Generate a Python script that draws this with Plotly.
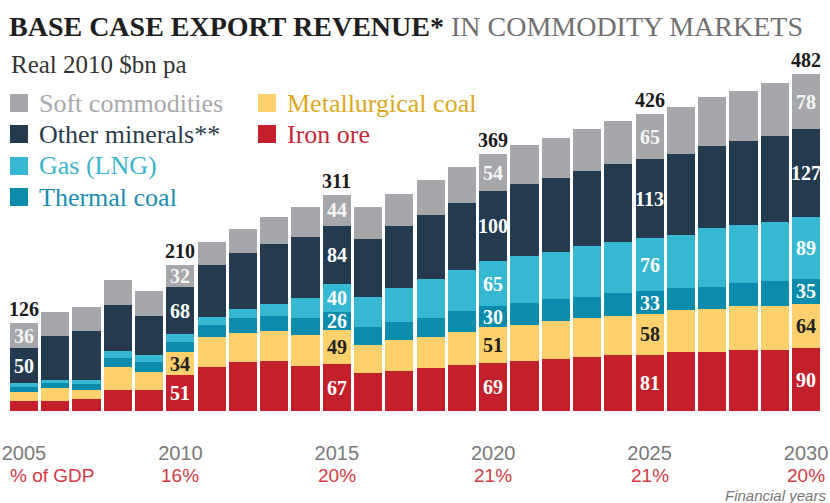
import plotly.graph_objects as go

# ---------------- data ----------------
years = list(range(2005, 2031))
iron_ore = [14, 15, 17, 30, 30, 51, 63, 71, 72, 64, 67, 54, 58, 61, 66, 69, 72, 74, 77, 80, 81, 84, 85, 87, 88, 90]
met_coal = [13, 18, 13, 33, 26, 34, 43, 41, 43, 45, 49, 41, 44, 45, 48, 51, 51, 55, 56, 56, 58, 61, 62, 63, 63, 64]
thermal_coal = [7, 7, 9, 13, 14, 14, 17, 21, 22, 24, 26, 26, 25, 28, 30, 30, 32, 31, 31, 33, 33, 31, 31, 33, 35, 35]
gas_lng = [6, 5, 6, 10, 10, 11, 12, 14, 17, 29, 40, 43, 49, 56, 58, 65, 67, 68, 73, 73, 76, 77, 84, 84, 85, 89]
other_minerals = [50, 62, 70, 66, 57, 68, 74, 80, 86, 87, 84, 83, 89, 91, 96, 100, 103, 107, 108, 112, 113, 116, 118, 120, 123, 127]
soft_commodities = [36, 35, 34, 36, 35, 32, 33, 34, 38, 43, 44, 45, 47, 51, 52, 54, 56, 57, 60, 62, 65, 67, 70, 72, 76, 78]

label_years = [2005, 2010, 2015, 2020, 2025, 2030]
total_labels = [126, 210, 311, 369, 426, 482]
gdp_years = [2010, 2015, 2020, 2025, 2030]
gdp_share = ["16%", "20%", "21%", "21%", "20%"]
tick_years = [2005, 2010, 2015, 2020, 2025, 2030]

series = [
    # name, values, bar colour, label colour, years labelled, legend text colour
    ("Iron ore", iron_ore, "#c4202c", "#ffffff", [2010, 2015, 2020, 2025, 2030], "#c9283a"),
    ("Metallurgical coal", met_coal, "#fcd06c", "#222222", [2010, 2015, 2020, 2025, 2030], "#dba922"),
    ("Thermal coal", thermal_coal, "#0b8cac", "#ffffff", [2015, 2020, 2025, 2030], "#1a8db0"),
    ("Gas (LNG)", gas_lng, "#36b8d2", "#ffffff", [2015, 2020, 2025, 2030], "#3bb5cf"),
    ("Other minerals**", other_minerals, "#243a4f", "#ffffff", label_years, "#2b3b4c"),
    ("Soft commodities", soft_commodities, "#a6a7ab", "#f4f4f4", label_years, "#a9a9ab"),
]

W, H = 830, 503
B = 92          # bottom margin, plot bottom at y=411
PLOT_H = H - B  # 411
Y_MAX = 589.7


def fx(px):
    return px / W


def fy(py):
    return (PLOT_H - py) / PLOT_H


SERIF = "Liberation Serif"
SANS = "Liberation Sans"

fig = go.Figure()
for name, vals, col, _, _, _ in series:
    fig.add_trace(go.Bar(
        x=years, y=vals, name=name, marker=dict(color=col, line=dict(width=0)),
        showlegend=False, hoverinfo="x+y+name",
    ))

annotations = []
# segment labels
base = [0] * len(years)
for name, vals, col, lcol, lyears, _ in series:
    for i, yr in enumerate(years):
        if yr in lyears:
            annotations.append(dict(
                x=yr, y=base[i] + vals[i] / 2, xref="x", yref="y", yanchor="middle",
                text=f"<b>{vals[i]}</b>", showarrow=False,
                font=dict(family=SERIF, size=20, color=lcol),
            ))
    base = [b + v for b, v in zip(base, vals)]

# totals
for yr, tot in zip(label_years, total_labels):
    i = years.index(yr)
    annotations.append(dict(
        x=yr, y=base[i], xref="x", yref="y", yanchor="bottom", yshift=1,
        text=f"<b>{tot}</b>", showarrow=False,
        font=dict(family=SERIF, size=20, color="#1a1a1a"),
    ))

# % of GDP row
annotations.append(dict(
    x=fx(8), y=fy(475), xref="paper", yref="paper", xanchor="left", yanchor="middle",
    text="% of GDP", showarrow=False, font=dict(family=SANS, size=19, color="#d23a44"),
))
for yr, s in zip(gdp_years, gdp_share):
    annotations.append(dict(
        x=yr, y=fy(475), xref="x", yref="paper", yanchor="middle",
        text=s, showarrow=False, font=dict(family=SANS, size=19, color="#d23a44"),
    ))

# title, subtitle, footer
annotations.append(dict(
    x=fx(7), y=fy(26), xref="paper", yref="paper", xanchor="left", yanchor="middle",
    text="<b>BASE CASE EXPORT REVENUE*</b> <span style='color:#707070'>IN COMMODITY MARKETS</span>",
    showarrow=False, font=dict(family=SERIF, size=28, color="#1e1e1e"),
))
annotations.append(dict(
    x=fx(9), y=fy(64), xref="paper", yref="paper", xanchor="left", yanchor="middle",
    text="Real 2010 $bn pa", showarrow=False,
    font=dict(family=SERIF, size=25, color="#333333"),
))
annotations.append(dict(
    x=fx(828), y=fy(495), xref="paper", yref="paper", xanchor="right", yanchor="middle",
    text="<i>Financial years</i>", showarrow=False,
    font=dict(family=SANS, size=15, color="#777777"),
))

# legend (custom, two columns)
legend_pos = {
    "Soft commodities": (10, 103),
    "Other minerals**": (10, 134),
    "Gas (LNG)": (10, 166),
    "Thermal coal": (10, 197),
    "Metallurgical coal": (258, 103),
    "Iron ore": (258, 134),
}
shapes = []
for name, vals, col, _, _, tcol in series:
    lx, ly = legend_pos[name]
    shapes.append(dict(
        type="rect", xref="paper", yref="paper",
        x0=fx(lx), x1=fx(lx + 18), y0=fy(ly + 9), y1=fy(ly - 9),
        fillcolor=col, line=dict(width=0),
    ))
    annotations.append(dict(
        x=fx(lx + 27), y=fy(ly), xref="paper", yref="paper", xanchor="left", yanchor="middle",
        text=name, showarrow=False, font=dict(family=SERIF, size=26, color=tcol),
    ))

fig.update_layout(
    width=W, height=H,
    margin=dict(l=0, r=0, t=0, b=B),
    paper_bgcolor="white", plot_bgcolor="white",
    barmode="stack", bargap=0.1,
    xaxis=dict(
        range=[2004.233, 2030.767], tickmode="array", tickvals=tick_years,
        ticktext=[str(t) for t in tick_years], showgrid=False, zeroline=False,
        showline=False, ticks="", ticklabelstandoff=28,
        tickfont=dict(family=SANS, size=20, color="#7a7a7a"),
    ),
    yaxis=dict(range=[0, Y_MAX], visible=False, showgrid=False),
    annotations=annotations,
    shapes=shapes,
)

fig.write_html("out.html")
